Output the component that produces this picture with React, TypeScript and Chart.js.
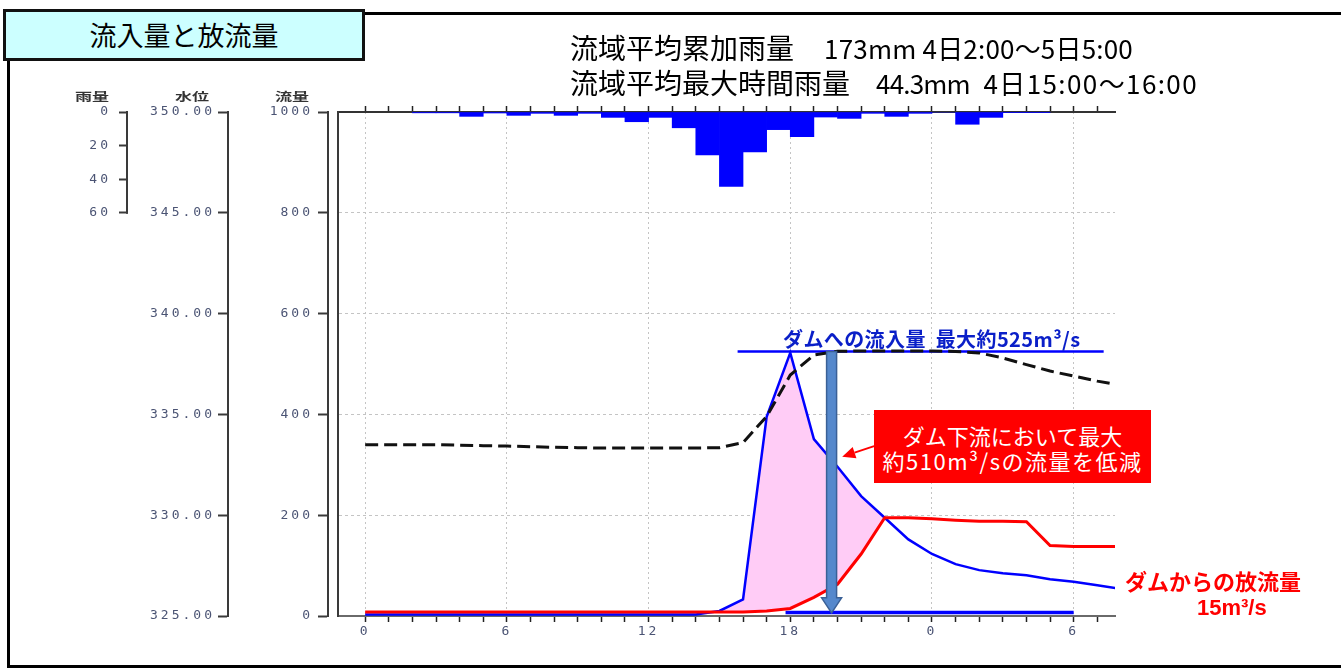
import React, { useEffect, useRef } from "react";
import { Chart, registerables } from "chart.js";

Chart.register(...registerables);

// ---------------- data ----------------
const hours = [0, 1, 2, 3, 4, 5, 6, 7, 8, 9, 10, 11, 12, 13, 14, 15, 16, 17, 18, 19, 20, 21, 22, 23, 24, 25, 26, 27, 28, 29, 30, 31, 32];
const inflowFlow = [3, 3, 3, 3, 3, 3, 3, 3, 3, 3, 3, 3, 3, 3, 3, 10, 33, 395, 522, 351, 296, 238, 195, 152, 123, 103, 91, 85, 81, 73, 68, 61, 54];
const outflowFlow = [8, 8, 8, 8, 8, 8, 8, 8, 8, 8, 8, 8, 8, 8, 8, 8, 8, 10, 15, 37, 63, 123, 195, 195, 193, 190, 188, 188, 187, 140, 138, 138, 138];
const reservoirLevel = [333.5, 333.5, 333.5, 333.5, 333.47, 333.45, 333.43, 333.4, 333.37, 333.35, 333.33, 333.33, 333.33, 333.33, 333.33, 333.35, 333.6, 334.9, 336.95, 337.95, 338.13, 338.15, 338.15, 338.15, 338.15, 338.12, 338.05, 337.8, 337.47, 337.15, 336.9, 336.65, 336.45];
const rainHourStart = [2, 3, 4, 5, 6, 7, 8, 9, 10, 11, 12, 13, 14, 15, 16, 17, 18, 19, 20, 21, 22, 23, 24, 25, 26, 27, 28];
const rainMm = [0.5, 0.5, 2.6, 0.6, 2.0, 0.8, 2.0, 0.8, 3.2, 5.8, 3.2, 9.4, 25.6, 44.3, 23.8, 10.5, 14.7, 3.0, 3.8, 0.8, 2.6, 0.8, 0, 7.3, 3.2, 0.4, 0.4];

const xTickHours = [0, 1, 2, 3, 4, 5, 6, 7, 8, 9, 10, 11, 12, 13, 14, 15, 16, 17, 18, 19, 20, 21, 22, 23, 24, 25, 26, 27, 28, 29, 30, 31];
const flowTicks = [0, 200, 400, 600, 800, 1000];
const levelTicks = [325, 330, 335, 340, 345, 350];
const rainTicks = [0, 20, 40, 60];

const peakLineHours = [15.77, 31.27];
const peakLineFlow = [525, 525];
const baseLineHours = [17.8, 30];
const baseLineFlow = [7, 7];

const arrowHour = 19.75;
const arrowTopFlow = 525;
const arrowHeadFlow = 36;
const arrowTipFlow = 6;
const calloutTipHour = 20.2;
const calloutTipFlow = 316;
const calloutTailHour = 21.55;
const calloutTailFlow = 337;

// ---------------- styles ----------------
const TICK_COLOR = "#4b5474";
const TICK_FONT = { family: "'DejaVu Sans Mono', 'Liberation Mono', monospace", size: 13 };
const AXIS_COLOR = "#3a3a3a";
const JP = "'Noto Sans CJK JP', 'Noto Sans', sans-serif";

const annotationPlugin = {
  id: "damAnnotations",
  beforeDraw(chart: any) {
    chart.ctx.letterSpacing = "3px";
  },
  afterDraw(chart: any) {
    const ctx = chart.ctx;
    ctx.letterSpacing = "0px";
    const xs = chart.scales.x;
    const fs = chart.scales.flow;
    const rs = chart.scales.rain;

    // partial border of the rainfall axis (0 - 60 mm)
    ctx.save();
    ctx.strokeStyle = AXIS_COLOR;
    ctx.lineWidth = 2;
    ctx.beginPath();
    ctx.moveTo(rs.right - 1, rs.getPixelForValue(rainTicks[0]) - 1);
    ctx.lineTo(rs.right - 1, rs.getPixelForValue(rainTicks[rainTicks.length - 1]) + 1);
    ctx.stroke();
    ctx.restore();

    // big downward blue arrow
    const cx = xs.getPixelForValue(arrowHour);
    const yTop = fs.getPixelForValue(arrowTopFlow);
    const yHead = fs.getPixelForValue(arrowHeadFlow);
    const yTip = fs.getPixelForValue(arrowTipFlow);
    ctx.save();
    ctx.beginPath();
    ctx.moveTo(cx - 5, yTop);
    ctx.lineTo(cx + 5, yTop);
    ctx.lineTo(cx + 5, yHead);
    ctx.lineTo(cx + 10, yHead);
    ctx.lineTo(cx, yTip);
    ctx.lineTo(cx - 10, yHead);
    ctx.lineTo(cx - 5, yHead);
    ctx.closePath();
    ctx.fillStyle = "#5588cc";
    ctx.fill();
    ctx.strokeStyle = "#3a6096";
    ctx.lineWidth = 1.5;
    ctx.stroke();
    ctx.restore();

    // red callout arrow
    const tx = xs.getPixelForValue(calloutTipHour);
    const ty = fs.getPixelForValue(calloutTipFlow);
    const sx = xs.getPixelForValue(calloutTailHour);
    const sy = fs.getPixelForValue(calloutTailFlow);
    const ang = Math.atan2(ty - sy, tx - sx);
    const hl = 13;
    const hw = 6;
    const bx = tx - hl * Math.cos(ang);
    const by = ty - hl * Math.sin(ang);
    ctx.save();
    ctx.strokeStyle = "#ff0000";
    ctx.fillStyle = "#ff0000";
    ctx.lineWidth = 2;
    ctx.beginPath();
    ctx.moveTo(sx, sy);
    ctx.lineTo(bx, by);
    ctx.stroke();
    ctx.beginPath();
    ctx.moveTo(tx, ty);
    ctx.lineTo(bx + hw * Math.sin(ang), by - hw * Math.cos(ang));
    ctx.lineTo(bx - hw * Math.sin(ang), by + hw * Math.cos(ang));
    ctx.closePath();
    ctx.fill();
    ctx.restore();
  },
};

const hourTicks = (s: any) => {
  s.ticks = xTickHours.map((v) => ({ value: v }));
};

export default function App() {
  const ref = useRef<HTMLCanvasElement>(null);

  useEffect(() => {
    const canvas = ref.current;
    if (!canvas) return;
    const chart = new Chart(canvas, {
      type: "line",
      data: {
        datasets: [
          {
            type: "bar",
            label: "雨量",
            data: rainHourStart.map((h, i) => ({ x: h + 0.5, y: rainMm[i] })),
            xAxisID: "x",
            yAxisID: "rain",
            backgroundColor: "#0000ff",
            borderWidth: 0,
            barPercentage: 1,
            categoryPercentage: 1,
            order: 5,
          } as any,
          {
            type: "line",
            label: "水位",
            data: hours.map((h, i) => ({ x: h, y: reservoirLevel[i] })),
            xAxisID: "x",
            yAxisID: "level",
            borderColor: "#111111",
            borderWidth: 3,
            borderDash: [13, 6],
            pointRadius: 0,
            fill: false,
            tension: 0,
            order: 0,
          },
          {
            type: "line",
            label: "放流量",
            data: hours.map((h, i) => ({ x: h, y: outflowFlow[i] })),
            xAxisID: "x",
            yAxisID: "flow",
            borderColor: "#ff0000",
            borderWidth: 3,
            pointRadius: 0,
            fill: false,
            tension: 0,
            order: 1,
          },
          {
            type: "line",
            label: "流入量",
            data: hours.map((h, i) => ({ x: h, y: inflowFlow[i] })),
            xAxisID: "x",
            yAxisID: "flow",
            borderColor: "#0000ff",
            borderWidth: 2.5,
            pointRadius: 0,
            fill: { target: 2, above: "#ffccf6", below: "rgba(0,0,0,0)" },
            tension: 0,
            order: 2,
          } as any,
          {
            type: "line",
            label: "最大流入量",
            data: peakLineHours.map((h, i) => ({ x: h, y: peakLineFlow[i] })),
            xAxisID: "x",
            yAxisID: "flow",
            borderColor: "#0000ff",
            borderWidth: 2.5,
            pointRadius: 0,
            fill: false,
            order: 0,
          },
          {
            type: "line",
            label: "基線",
            data: baseLineHours.map((h, i) => ({ x: h, y: baseLineFlow[i] })),
            xAxisID: "x",
            yAxisID: "flow",
            borderColor: "#0000ff",
            borderWidth: 3.5,
            pointRadius: 0,
            fill: false,
            order: 3,
          },
        ],
      },
      options: {
        responsive: false,
        animation: false,
        events: [],
        layout: { padding: { top: 106, left: 0, right: 226, bottom: 0 } },
        plugins: {
          legend: { display: false },
          tooltip: { enabled: false },
          filler: { drawTime: "beforeDatasetsDraw" },
        } as any,
        scales: {
          x: {
            type: "linear",
            position: "bottom",
            offset: false,
            min: -1.15,
            max: 31.75,
            afterBuildTicks: hourTicks,
            afterFit: (s: any) => {
              s.height = 53;
            },
            ticks: {
              autoSkip: false,
              maxRotation: 0,
              padding: 2,
              color: TICK_COLOR,
              font: TICK_FONT,
              callback: (v: any) => (Number(v) % 6 === 0 ? String(Number(v) % 24) : ""),
            },
            grid: {
              offset: false,
              color: (c: any) => (c.tick && c.tick.value % 6 === 0 ? "#c4c4c4" : "rgba(0,0,0,0)"),
              tickColor: "#222222",
              tickLength: 6,
              tickWidth: 1.5,
              lineWidth: 1,
            },
            border: { display: true, color: "#6a6a6a", width: 2, dash: [2, 3] },
          },
          xTop: {
            type: "linear",
            position: "top",
            offset: false,
            min: -1.15,
            max: 31.75,
            afterBuildTicks: hourTicks,
            afterFit: (s: any) => {
              s.height = 6;
            },
            ticks: { display: false },
            grid: { offset: false, drawOnChartArea: false, tickColor: "#222222", tickLength: 6, tickWidth: 1.5 },
            border: { display: true, color: "#333333", width: 2 },
          },
          rain: {
            type: "linear",
            position: "left",
            reverse: true,
            min: 0,
            max: 300,
            weight: 4,
            afterBuildTicks: (s: any) => {
              s.ticks = rainTicks.map((v) => ({ value: v }));
            },
            afterFit: (s: any) => {
              s.width = 128;
            },
            ticks: { color: TICK_COLOR, font: TICK_FONT, padding: 8, callback: (v: any) => String(v) },
            grid: { drawOnChartArea: false, tickColor: AXIS_COLOR, tickLength: 9, tickWidth: 2 },
            border: { display: false },
          },
          level: {
            type: "linear",
            position: "left",
            min: 325,
            max: 350,
            weight: 3,
            afterBuildTicks: (s: any) => {
              s.ticks = levelTicks.map((v) => ({ value: v }));
            },
            afterFit: (s: any) => {
              s.width = 100;
            },
            ticks: { color: TICK_COLOR, font: TICK_FONT, padding: 3, callback: (v: any) => Number(v).toFixed(2) },
            grid: { drawOnChartArea: false, tickColor: AXIS_COLOR, tickLength: 10, tickWidth: 2 },
            border: { display: true, color: AXIS_COLOR, width: 2 },
          },
          flow: {
            type: "linear",
            position: "left",
            min: 0,
            max: 1000,
            weight: 2,
            afterBuildTicks: (s: any) => {
              s.ticks = flowTicks.map((v) => ({ value: v }));
            },
            afterFit: (s: any) => {
              s.width = 100;
            },
            ticks: { color: TICK_COLOR, font: TICK_FONT, padding: 5, callback: (v: any) => String(v) },
            grid: {
              drawOnChartArea: true,
              color: (c: any) => (c.tick && c.tick.value > 0 && c.tick.value < 1000 ? "#c4c4c4" : "rgba(0,0,0,0)"),
              tickColor: AXIS_COLOR,
              tickLength: 10,
              tickWidth: 2,
              lineWidth: 1,
            },
            border: { display: true, color: AXIS_COLOR, width: 2, dash: [3, 3] },
          },
          frame: {
            type: "linear",
            position: "left",
            min: 0,
            max: 1,
            weight: 1,
            afterFit: (s: any) => {
              s.width = 10;
            },
            ticks: { display: false },
            grid: { display: false },
            border: { display: true, color: AXIS_COLOR, width: 2 },
          },
        } as any,
      },
      plugins: [annotationPlugin as any],
    });
    return () => chart.destroy();
  }, []);

  const abs = (o: React.CSSProperties): React.CSSProperties => ({ position: "absolute", whiteSpace: "pre", ...o });
  const axisTitle = (left: number, text: string) => (
    <div style={abs({ left, top: 88, width: 40, textAlign: "center", fontFamily: JP, fontSize: 11, fontWeight: 700, lineHeight: "16px", color: "#333" })}>
      <span style={{ display: "inline-block", transform: "scaleX(1.55)" }}>{text}</span>
    </div>
  );

  return (
    <div style={{ position: "fixed", left: 0, top: 0, width: 1341, height: 669, overflow: "hidden", background: "#ffffff" }}>
      <canvas ref={ref} width={1341} height={669} style={{ position: "absolute", left: 0, top: 0, width: 1341, height: 669 }} />

      {/* outer frame */}
      <div style={abs({ left: 7, top: 12, width: 1400, height: 656, boxSizing: "border-box", borderTop: "3px solid #000", borderLeft: "3px solid #000", borderBottom: "3px solid #000" })} />

      {/* title box */}
      <div
        style={abs({
          left: 3,
          top: 9,
          width: 362,
          height: 52,
          boxSizing: "border-box",
          border: "3px solid #111",
          background: "#ccffff",
          fontFamily: JP,
          fontSize: 27,
          lineHeight: "46px",
          textAlign: "center",
          color: "#000",
        })}
      >
        流入量と放流量
      </div>

      {/* header */}
      <div style={abs({ left: 570, top: 30, fontFamily: JP, fontSize: 28, lineHeight: "34px", color: "#000" })}>流域平均累加雨量</div>
      <div style={abs({ right: 1341 - 1133, top: 31, fontFamily: JP, fontSize: 26, lineHeight: "34px", color: "#000", letterSpacing: "0.2px" })}>173mm 4日2:00～5日5:00</div>
      <div style={abs({ left: 570, top: 65, fontFamily: JP, fontSize: 28, lineHeight: "34px", color: "#000" })}>流域平均最大時間雨量</div>
      <div style={abs({ left: 876, top: 66, fontFamily: JP, fontSize: 26, lineHeight: "34px", color: "#000", letterSpacing: "-0.8px" })}>44.3mm</div>
      <div style={abs({ right: 1341 - 1198, top: 66, fontFamily: JP, fontSize: 26, lineHeight: "34px", color: "#000", letterSpacing: "1.4px" })}>4日15:00～16:00</div>

      {/* axis titles */}
      {axisTitle(72, "雨量")}
      {axisTitle(172, "水位")}
      {axisTitle(272, "流量")}

      {/* peak inflow label */}
      <div style={abs({ left: 783, top: 326, fontFamily: JP, fontSize: 20, fontWeight: 700, lineHeight: "26px", color: "#0a1fc8", letterSpacing: "0.4px" })}>ダムへの流入量  最大約525m³/s</div>

      {/* red callout */}
      <div
        style={abs({
          left: 874,
          top: 410,
          width: 277,
          height: 73,
          boxSizing: "border-box",
          paddingTop: 13,
          background: "#ff0000",
          color: "#ffffff",
          fontFamily: JP,
          fontSize: 22,
          lineHeight: "25px",
          textAlign: "center",
        })}
      >
        <div>ダム下流において最大</div>
        <div style={{ letterSpacing: "1.5px" }}>約510m³/sの流量を低減</div>
      </div>

      {/* outflow label */}
      <div style={abs({ left: 1125, top: 565, fontFamily: JP, fontSize: 22, fontWeight: 700, lineHeight: "30px", color: "#ff0000" })}>ダムからの放流量</div>
      <div style={abs({ left: 1197, top: 593, fontFamily: "'Liberation Sans', Arial, sans-serif", fontSize: 22, fontWeight: 700, lineHeight: "30px", color: "#ff0000" })}>15m³/s</div>
    </div>
  );
}
